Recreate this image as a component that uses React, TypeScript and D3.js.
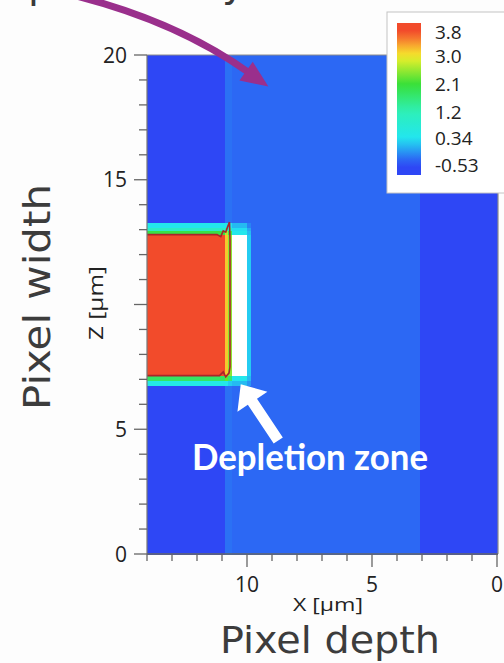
import React from 'react';
import * as d3 from 'd3';

const W = 504;
const H = 663;

// Field grid (X descends left→right, Z ascends bottom→top); null = depleted (white)
const xEdges = [14, 10.9, 10.75, 10.6, 10.0, 9.85, 3.1, 0];
const zEdges = [0, 6.75, 6.95, 7.15, 12.8, 12.95, 13.1, 13.3, 20];
const fieldRows: (number | null)[][] = [
  [-0.53, -0.3, -0.3, -0.35, -0.35, -0.35, -0.53],
  [0.5, 0.4, 0.2, 0.1, -0.1, -0.35, -0.53],
  [1.8, 2.3, 1.7, 0.4, 0.1, -0.35, -0.53],
  [3.8, 3.2, 2.5, null, 0.2, -0.35, -0.53],
  [2.0, 2.7, 1.9, 0.4, 0.1, -0.35, -0.53],
  [1.0, 1.3, 1.0, 0.3, 0.0, -0.35, -0.53],
  [0.4, 0.4, 0.3, 0.1, -0.2, -0.35, -0.53],
  [-0.53, -0.3, -0.3, -0.35, -0.35, -0.35, -0.53],
];

// Red contour around the high-potential block
const contourTop: [number, number][] = [
  [14, 12.8], [11.2, 12.8], [11.05, 12.72], [10.95, 12.95], [10.85, 12.9], [10.78, 13.1], [10.7, 13.3], [10.68, 12.6], [10.68, 7.5],
];
const contourBottom: [number, number][] = [
  [14, 7.15], [11.1, 7.15], [10.95, 7.3], [10.85, 7.1], [10.72, 7.25], [10.68, 7.5],
];

// Colormap
const legendLabels = ['3.8', '3.0', '2.1', '1.2', '0.34', '-0.53'];
const legendValues = [3.8, 3.0, 2.1, 1.2, 0.34, -0.53];
const cmapValues = [-0.53, 0.34, 1.2, 2.1, 3.0, 3.4, 3.8];
const cmapColors = ['#2e47f5', '#22e6f0', '#2ef0b8', '#38e038', '#f4f02a', '#f8a030', '#f24b2b'];

// Axis ticks
const zMajorLabels = [0, 5, 15, 20];
const xMajorLabels = [10, 5, 0];

export default function App() {
  const x = d3.scaleLinear().domain([14, 0]).range([147, 497]);
  const z = d3.scaleLinear().domain([0, 20]).range([554, 55]);
  const color = d3.scaleLinear<string>().domain(cmapValues).range(cmapColors).clamp(true);

  const cells: JSX.Element[] = [];
  fieldRows.forEach((row, ri) => {
    row.forEach((v, ci) => {
      const x0 = x(xEdges[ci]);
      const x1 = x(xEdges[ci + 1]);
      const y0 = z(zEdges[ri + 1]);
      const y1 = z(zEdges[ri]);
      cells.push(
        <rect key={`c${ri}-${ci}`} x={x0} y={y0} width={x1 - x0 + 0.6} height={y1 - y0 + 0.6}
          fill={v === null ? '#ffffff' : color(v)} />
      );
    });
  });

  const line = d3.line<[number, number]>().x(d => x(d[0])).y(d => z(d[1]));

  // Legend scale
  const ly = d3.scaleLinear().domain([-0.53, 3.8]).range([165, 32]);
  const barTop = 23, barBot = 175;
  const gradStops = d3.range(0, 21).map(i => {
    const yy = barTop + (i / 20) * (barBot - barTop);
    return { off: i / 20, c: color(ly.invert(yy)) };
  });

  const zMinor = d3.range(0, 21);
  const xMinor = d3.range(0, 15);

  // White arrow (Depletion zone)
  const tail: [number, number] = [x(8.75), z(4.55)];
  const tip: [number, number] = [x(10.25), z(6.8)];
  const dx = tip[0] - tail[0], dy = tip[1] - tail[1];
  const L = Math.hypot(dx, dy);
  const ux = dx / L, uy = dy / L;
  const px = -uy, py = ux;
  const headLen = 21, headHalf = 18, shaftHalf = 5.5;
  const bx = tip[0] - ux * headLen, by = tip[1] - uy * headLen;
  const arrowPts = [
    [tail[0] + px * shaftHalf, tail[1] + py * shaftHalf],
    [bx + px * shaftHalf, by + py * shaftHalf],
    [bx + px * headHalf, by + py * headHalf],
    tip,
    [bx - px * headHalf, by - py * headHalf],
    [bx - px * shaftHalf, by - py * shaftHalf],
    [tail[0] - px * shaftHalf, tail[1] - py * shaftHalf],
  ].map(p => p.join(',')).join(' ');

  // Purple arrow
  const pStart: [number, number] = [60, -8];
  const pCtrl: [number, number] = [172, 18];
  const pEnd: [number, number] = [248, 72];
  const edx = pEnd[0] - pCtrl[0], edy = pEnd[1] - pCtrl[1];
  const eL = Math.hypot(edx, edy);
  const eux = edx / eL, euy = edy / eL;
  const ptip = [pEnd[0] + eux * 25, pEnd[1] + euy * 25];
  const pHead = [
    ptip,
    [pEnd[0] - euy * 12 - eux * 2, pEnd[1] + eux * 12 - euy * 2],
    [pEnd[0] + euy * 11 - eux * 2, pEnd[1] - eux * 11 - euy * 2],
  ].map(p => p.join(',')).join(' ');

  const font = "'Open Sans', 'DejaVu Sans', sans-serif";
  const comic = "'DejaVu Sans', 'Noto Sans', sans-serif";

  return (
    <svg width={W} height={H} style={{ position: 'absolute', left: 0, top: 0, background: '#fdfdfd' }}>
      <defs>
        <linearGradient id="lg" x1="0" y1="0" x2="0" y2="1">
          {gradStops.map((s, i) => <stop key={i} offset={s.off} stopColor={s.c} />)}
        </linearGradient>
      </defs>
      <rect x={0} y={0} width={W} height={H} fill="#fdfdfd" />

      {/* cut-off text from above */}
      <text x={28} y={-3} fontFamily={comic} fontSize={40} fill="#3a3a3a">p</text>
      <text x={222} y={-4} fontFamily={comic} fontSize={40} fill="#3a3a3a">y</text>

      {/* heat map */}
      <g shapeRendering="crispEdges">{cells}</g>
      <path d={line(contourTop) || ''} fill="none" stroke="#a8262a" strokeWidth={1.6} />
      <path d={line(contourBottom) || ''} fill="none" stroke="#a8262a" strokeWidth={1.6} />

      {/* frame */}
      <line x1={x(14)} x2={x(0)} y1={z(20)} y2={z(20)} stroke="#8c8c8c" strokeWidth={1} />
      <line x1={x(0) + 1} x2={x(0) + 1} y1={z(20)} y2={z(0)} stroke="#8c8c8c" strokeWidth={1.2} />
      <line x1={x(14)} x2={x(14)} y1={z(20)} y2={z(0)} stroke="#777" strokeWidth={1.2} />
      <line x1={x(14)} x2={x(0) + 1} y1={z(0)} y2={z(0)} stroke="#666" strokeWidth={1.5} />

      {/* y ticks */}
      {zMinor.map(v => (
        <line key={`zt${v}`} x1={x(14) - (v % 5 === 0 ? 13 : 8)} x2={x(14)} y1={z(v)} y2={z(v)}
          stroke="#666" strokeWidth={1.3} />
      ))}
      {zMajorLabels.map(v => (
        <text key={`zl${v}`} x={127} y={z(v)} dy="0.36em" textAnchor="end" fontFamily={font} fontSize={21} fill="#222">{v}</text>
      ))}
      {/* x ticks */}
      {xMinor.map(v => (
        <line key={`xt${v}`} x1={x(v)} x2={x(v)} y1={z(0)} y2={z(0) + (v % 5 === 0 ? 13 : 7)}
          stroke="#666" strokeWidth={1.3} />
      ))}
      {xMajorLabels.map(v => (
        <text key={`xl${v}`} x={x(v)} y={592} textAnchor="middle" fontFamily={font} fontSize={21} fill="#222">{v}</text>
      ))}

      {/* axis titles */}
      <text x={328} y={611} textAnchor="middle" fontFamily={font} fontSize={19} fill="#222"
        textLength={70} lengthAdjust="spacingAndGlyphs">X [µm]</text>
      <text transform={`translate(103,303) rotate(-90)`} textAnchor="middle" fontFamily={font} fontSize={20} fill="#222"
        textLength={74} lengthAdjust="spacingAndGlyphs">Z [µm]</text>

      <text x={330} y={653} textAnchor="middle" fontFamily={comic} fontSize={38} fill="#3c3c3c"
        textLength={220} lengthAdjust="spacingAndGlyphs">Pixel depth</text>
      <text transform={`translate(50,297) rotate(-90)`} textAnchor="middle" fontFamily={comic} fontSize={38} fill="#3c3c3c"
        textLength={226} lengthAdjust="spacingAndGlyphs">Pixel width</text>

      {/* annotation */}
      <polygon points={arrowPts} fill="#ffffff" />
      <text x={310} y={470} textAnchor="middle" fontFamily="Lato, 'Open Sans', sans-serif" fontWeight={700} fontSize={37}
        fill="#ffffff" textLength={236} lengthAdjust="spacingAndGlyphs">Depletion zone</text>

      {/* purple arrow */}
      <path d={`M${pStart[0]},${pStart[1]} Q${pCtrl[0]},${pCtrl[1]} ${pEnd[0]},${pEnd[1]}`} fill="none" stroke="#9a2f8c" strokeWidth={7} />
      <polygon points={pHead} fill="#9a2f8c" />

      {/* legend */}
      <rect x={387} y={12} width={130} height={181} fill="#ffffff" stroke="#c4c4c4" strokeWidth={1} />
      <rect x={397} y={barTop} width={24} height={barBot - barTop} fill="url(#lg)" />
      {legendValues.map((v, i) => (
        <text key={`lv${i}`} x={435} y={ly(v)} dy="0.36em" fontFamily={font} fontSize={19} fill="#222">{legendLabels[i]}</text>
      ))}
    </svg>
  );
}
